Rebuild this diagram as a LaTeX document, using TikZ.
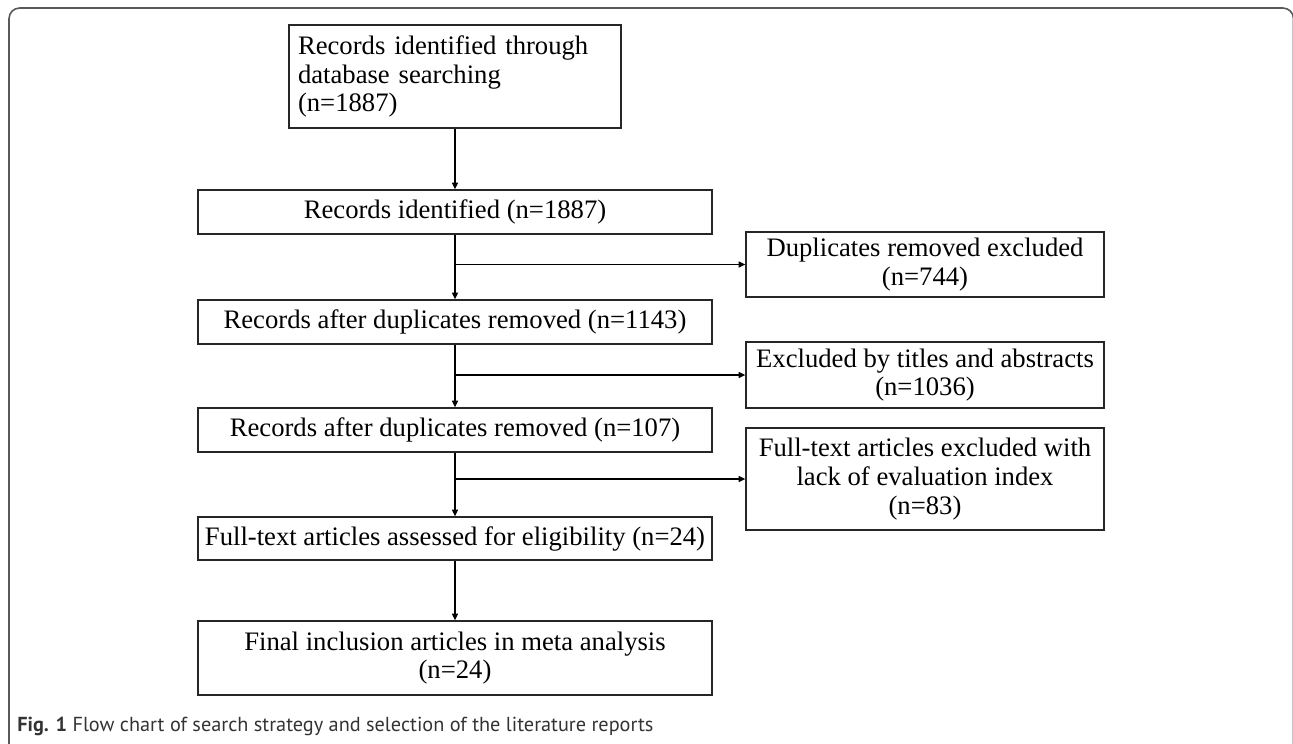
\documentclass[tikz,border=0pt]{standalone}
\usepackage{fontspec}
\setmainfont{Liberation Serif}
\setsansfont{PT Sans}
\usetikzlibrary{arrows.meta}

\begin{document}
\begin{tikzpicture}[x=0.75pt, y=-0.75pt, ->, >={Triangle[length=5pt,width=4.5pt]},
  box/.style={draw=black!85, line width=1pt, inner sep=0pt, align=center,
    font=\fontsize{20}{21.5}\selectfont},
  mainbox/.style={box, minimum width=385.5pt, minimum height=33pt},
  sidebox/.style={box, minimum width=268.5pt}]
\useasboundingbox (0,0) rectangle (1293,743);
\clip (0,0) rectangle (1293,743);
\draw[-, black!65, line width=1.2pt, rounded corners=8pt] (9,8) rectangle (1293.5,760);
\node[box, minimum width=249pt, minimum height=77.25pt, text width=235.5pt, align=left] (rec) at (455,76.5) {Records identified through\\database searching\\(n=1887)};
\node[mainbox] (idf) at (455,212) {Records identified (n=1887)};
\node[mainbox] (dupl) at (455,322) {Records after duplicates removed (n=1143)};
\node[mainbox] (scr) at (455,430) {Records after duplicates removed (n=107)};
\node[mainbox, minimum height=32.25pt] (elig) at (455,538.5) {Full-text articles assessed for eligibility (n=24)};
\node[mainbox, minimum height=55.5pt] (incl) at (455,658) {Final inclusion articles in meta analysis\\(n=24)};
\node[sidebox, minimum height=48.75pt] (exdup) at (925,264.5) {Duplicates removed excluded\\(n=744)};
\node[sidebox, minimum height=49.5pt] (extit) at (925,375) {Excluded by titles and abstracts\\(n=1036)};
\node[sidebox, minimum height=76.5pt] (exful) at (925,479) {Full-text articles excluded with\\lack of evaluation index\\(n=83)};
\node[anchor=base west, font=\sffamily\fontsize{15.2}{18}\selectfont, text=black!80, inner sep=0pt] (cap) at (17,731) {\textbf{Fig. 1} Flow chart of search strategy and selection of the literature reports};
\draw[line width=0.9pt] (rec) -- (idf);
\draw[line width=0.9pt] (idf) -- (dupl);
\draw[line width=0.9pt] (idf.south |- exdup.west) -- (exdup.west);
\draw[line width=0.9pt] (dupl) -- (scr);
\draw[line width=0.9pt] (dupl.south |- extit.west) -- (extit.west);
\draw[line width=0.9pt] (scr) -- (elig);
\draw[line width=0.9pt] (scr.south |- exful.west) -- (exful.west);
\draw[line width=0.9pt] (elig) -- (incl);
\end{tikzpicture}
\end{document}
